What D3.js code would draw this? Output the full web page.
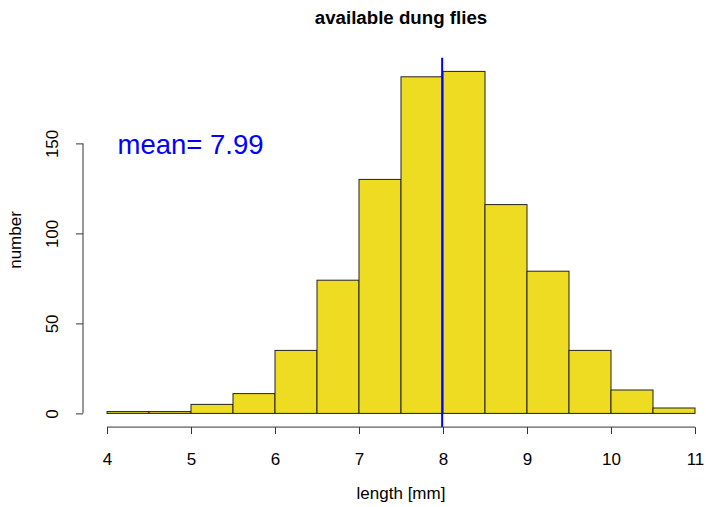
<!DOCTYPE html>
<html><head><meta charset="utf-8">
<script src="https://cdn.jsdelivr.net/npm/d3@7"></script>
<style>body{margin:0;background:#fff}svg{display:block}text{font-family:"Liberation Sans",Arial,sans-serif}</style>
</head><body>
<script>
const binStarts = [4,4.5,5,5.5,6,6.5,7,7.5,8,8.5,9,9.5,10,10.5];
const binWidth = 0.5;
const counts = [1,1,5,11,35,74,130,187,190,116,79,35,13,3];
const xTicks = [4,5,6,7,8,9,10,11];
const yTicks = [0,50,100,150];
const meanValue = 7.99;
const titleText = "available dung flies";
const xLabel = "length [mm]";
const yLabel = "number";

const W=706,H=507;
const FS=17;
const svg=d3.select("body").append("svg").attr("width",W).attr("height",H);
const x=d3.scaleLinear().domain([4,11]).range([107,695]);
const y=d3.scaleLinear().domain([0,150]).range([413.4,143.4]);
const yTop=y(197.6), yBot=y(-7.6);

svg.append("g").selectAll("rect").data(binStarts).join("rect")
  .attr("x",(d)=>x(d)).attr("width",(d)=>x(d+binWidth)-x(d))
  .attr("y",(d,i)=>y(counts[i])).attr("height",(d,i)=>y(0)-y(counts[i]))
  .attr("fill","#EEDC22").attr("stroke","#222").attr("stroke-width",1);

svg.append("line").attr("x1",x(meanValue)).attr("x2",x(meanValue))
  .attr("y1",yTop).attr("y2",yBot).attr("stroke","#0000FF").attr("stroke-width",2);

// x axis
const xa=svg.append("g").attr("transform",`translate(0,${yBot})`)
  .call(d3.axisBottom(x).tickValues(xTicks).tickFormat(d3.format("d")).tickSize(7));
xa.select(".domain").attr("d",`M${x(4)},0H${x(11)}`).attr("stroke","#333");
xa.selectAll(".tick line").attr("stroke","#333");
xa.selectAll("text").attr("y",37.5).attr("dy",null).attr("font-size",FS).attr("fill","#000")
  .attr("font-family","Liberation Sans, Arial, sans-serif");

// y axis
const ya=svg.append("g").attr("transform",`translate(83,0)`)
  .call(d3.axisLeft(y).tickValues(yTicks).tickSize(7));
ya.select(".domain").attr("d",`M0,${y(0)}V${y(150)}`).attr("stroke","#333");
ya.selectAll(".tick line").attr("stroke","#333");
ya.selectAll(".tick text").attr("x",null).attr("dy",null).attr("text-anchor","middle")
  .attr("transform","translate(-25.5,0) rotate(-90)").attr("font-size",FS).attr("fill","#000")
  .attr("font-family","Liberation Sans, Arial, sans-serif");

svg.append("text").attr("x",401).attr("y",24).attr("text-anchor","middle")
  .attr("font-weight","bold").attr("font-size",18.7).text(titleText);
svg.append("text").attr("x",401).attr("y",499).attr("text-anchor","middle")
  .attr("font-size",FS).text(xLabel);
svg.append("text").attr("transform","translate(21,240) rotate(-90)").attr("text-anchor","middle")
  .attr("font-size",FS).text(yLabel);
svg.append("text").attr("x",x(4.125)).attr("y",y(144)).attr("fill","#0000FF")
  .attr("font-size",27.5).text("mean= " + meanValue.toFixed(2));
</script>
</body></html>
